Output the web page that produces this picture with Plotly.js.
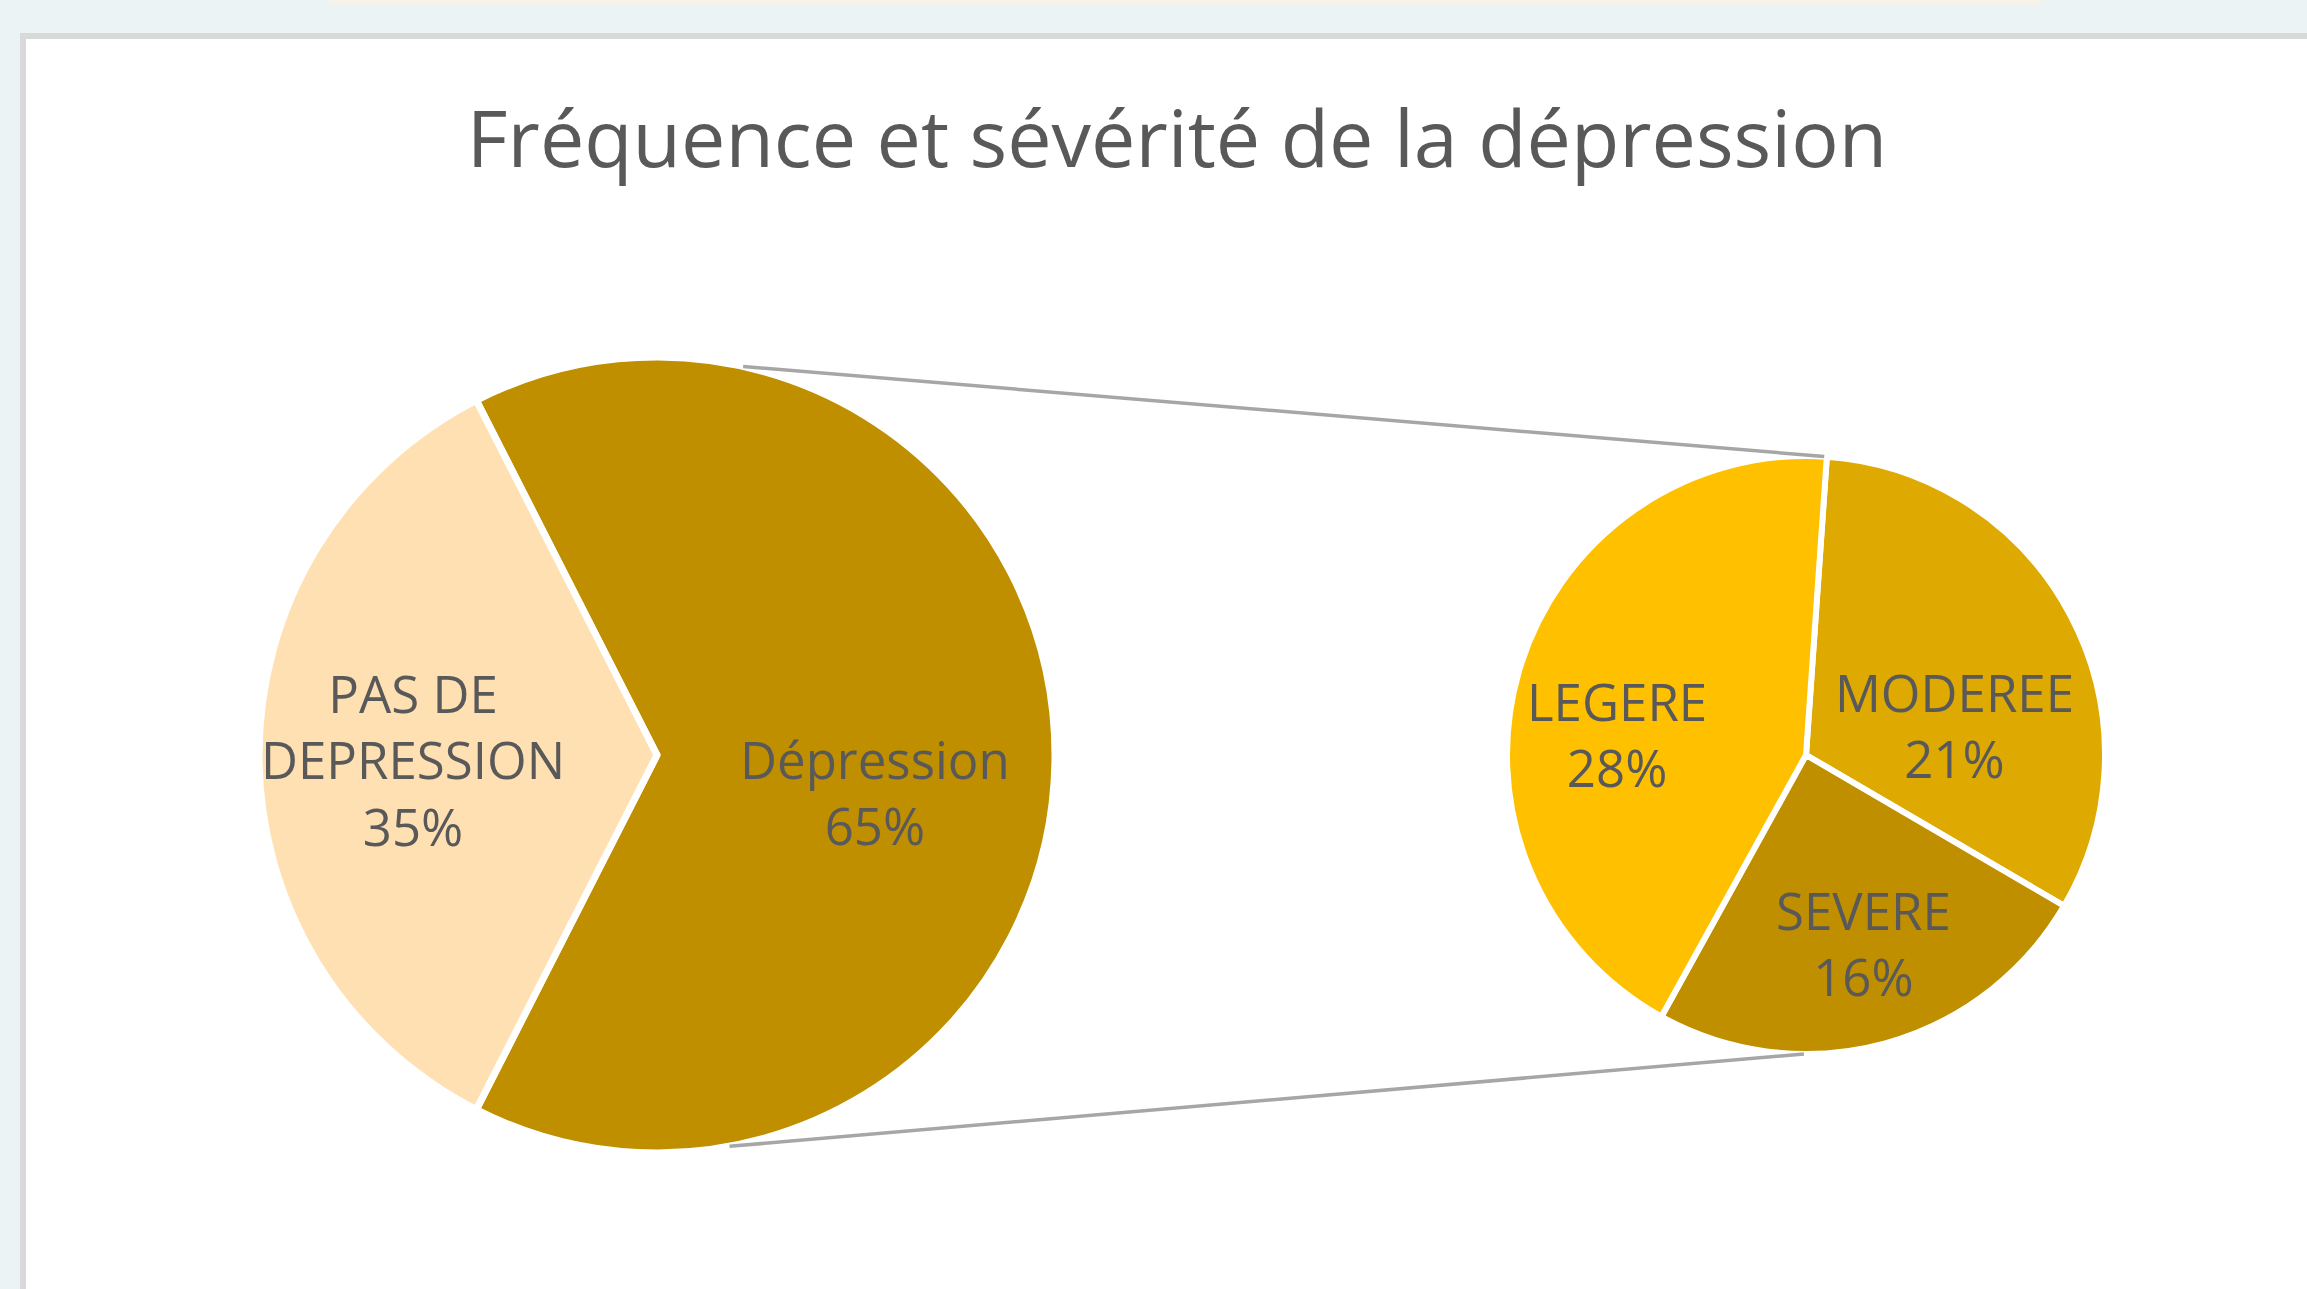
<!DOCTYPE html>
<html><head><meta charset="utf-8">
<script src="https://cdn.plot.ly/plotly-3.0.1.min.js"></script>
<style>html,body{margin:0;padding:0;background:#ebf3f5;overflow:hidden;} #chart{width:2307px;height:1289px;}</style>
</head><body><div id="chart"></div>
<script>
// ---- data ----
const titleText = 'Fréquence et sévérité de la dépression';
const mainLabels = ['Dépression', 'PAS DE DEPRESSION'];
const mainDisplay = ['Dépression', 'PAS DE<br>DEPRESSION'];
const mainValues = [65, 35];
const mainColors = ['#BF8F00', '#FFE0B3'];
const subLabels = ['MODEREE', 'SEVERE', 'LEGERE'];
const subValues = [21, 16, 28];
const subColors = ['#DEA900', '#BF8F00', '#FFC000'];

// ---- geometry (pixels) ----
const W = 2307, H = 1289;
const px = x => x / W;
const py = y => 1 - y / H;
const mainPie = {cx: 657, cy: 755, r: 398};
const subPie = {cx: 1806, cy: 755, r: 299};
function dom(c) { return {x: [px(c.cx - c.r), px(c.cx + c.r)], y: [py(c.cy + c.r), py(c.cy - c.r)]}; }
function pt(c, a) { const t = a * Math.PI / 180; return [c.cx + c.r * Math.sin(t), c.cy - c.r * Math.cos(t)]; }

const mainTotal = mainValues.reduce((s, v) => s + v, 0);
const mainRotation = 90 - 180 * mainValues[0] / mainTotal;

const traces = [
  {type: 'pie', labels: mainLabels, values: mainValues, sort: false, direction: 'clockwise',
   rotation: mainRotation, domain: dom(mainPie), textinfo: 'none', hoverinfo: 'label+percent',
   marker: {colors: mainColors, line: {color: '#ffffff', width: 7}}},
  {type: 'pie', labels: subLabels, values: subValues, sort: false, direction: 'clockwise',
   rotation: 4, domain: dom(subPie), textinfo: 'none', hoverinfo: 'label+value',
   marker: {colors: subColors, line: {color: '#ffffff', width: 6}}}
];

const labelFont = {family: 'Open Sans, sans-serif', size: 51, color: '#595959'};
const mainLabelPos = [[875, 792], [413, 759]];
const subLabelPos = [[1954, 725], [1863, 943], [1617, 734]];
const annotations = [];
mainDisplay.forEach((l, i) => annotations.push({
  text: l + '<br>' + Math.round(100 * mainValues[i] / mainTotal) + '%',
  x: px(mainLabelPos[i][0]), y: py(mainLabelPos[i][1]), xref: 'paper', yref: 'paper',
  xanchor: 'center', yanchor: 'middle', showarrow: false, align: 'center', font: labelFont}));
subLabels.forEach((l, i) => annotations.push({
  text: l + '<br>' + subValues[i] + '%',
  x: px(subLabelPos[i][0]), y: py(subLabelPos[i][1]), xref: 'paper', yref: 'paper',
  xanchor: 'center', yanchor: 'middle', showarrow: false, align: 'center', font: labelFont}));

const mTop = pt(mainPie, 12.5), mBot = pt(mainPie, 169.5);
const sTop = pt(subPie, 3.5), sBot = pt(subPie, 180.4);
const conn = {color: '#a6a6a6', width: 3.5};

const shapes = [
  {type: 'rect', xref: 'paper', yref: 'paper', x0: px(329), x1: px(2042), y0: py(5), y1: py(0), fillcolor: '#f5f2e9', line: {width: 0}, layer: 'below'},
  {type: 'rect', xref: 'paper', yref: 'paper', x0: px(20), x1: 1.01, y0: -0.01, y1: py(33), fillcolor: '#d9d9d9', line: {width: 0}, layer: 'below'},
  {type: 'rect', xref: 'paper', yref: 'paper', x0: px(26), x1: 1.01, y0: -0.01, y1: py(39), fillcolor: '#ffffff', line: {width: 0}, layer: 'below'},
  {type: 'line', xref: 'paper', yref: 'paper', x0: px(mTop[0]), y0: py(mTop[1]), x1: px(sTop[0]), y1: py(sTop[1]), line: conn},
  {type: 'line', xref: 'paper', yref: 'paper', x0: px(mBot[0]), y0: py(mBot[1]), x1: px(sBot[0]), y1: py(sBot[1]), line: conn}
];

const layout = {
  width: W, height: H,
  margin: {l: 0, r: 0, t: 0, b: 0, pad: 0},
  paper_bgcolor: '#ebf3f5',
  showlegend: false,
  title: {text: titleText, font: {family: 'Open Sans, sans-serif', size: 79, color: '#595959'},
          x: px(1177), xanchor: 'center', y: py(139), yanchor: 'middle', xref: 'paper', yref: 'paper'},
  shapes: shapes,
  annotations: annotations
};

Plotly.newPlot('chart', traces, layout, {displayModeBar: false, staticPlot: true});
</script>
</body></html>
